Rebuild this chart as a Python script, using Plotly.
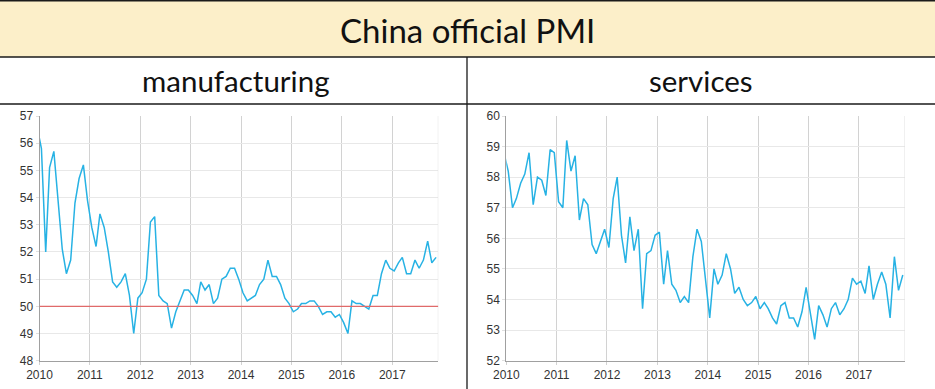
import plotly.graph_objects as go

W, H = 935, 389

# Monthly data, Dec 2009 .. Nov 2017 (plotted mid-month)
months = [f"2009-12-15"] + [f"{y}-{m:02d}-15" for y in range(2010, 2018) for m in range(1, 13)][:-1]

manufacturing = [
    56.6,
    55.8, 52.0, 55.1, 55.7, 53.9, 52.1, 51.2, 51.7, 53.8, 54.7, 55.2, 53.9,
    52.9, 52.2, 53.4, 52.9, 52.0, 50.9, 50.7, 50.9, 51.2, 50.4, 49.0, 50.3,
    50.5, 51.0, 53.1, 53.3, 50.4, 50.2, 50.1, 49.2, 49.8, 50.2, 50.6, 50.6,
    50.4, 50.1, 50.9, 50.6, 50.8, 50.1, 50.3, 51.0, 51.1, 51.4, 51.4, 51.0,
    50.5, 50.2, 50.3, 50.4, 50.8, 51.0, 51.7, 51.1, 51.1, 50.8, 50.3, 50.1,
    49.8, 49.9, 50.1, 50.1, 50.2, 50.2, 50.0, 49.7, 49.8, 49.8, 49.6, 49.7,
    49.4, 49.0, 50.2, 50.1, 50.1, 50.0, 49.9, 50.4, 50.4, 51.2, 51.7, 51.4,
    51.3, 51.6, 51.8, 51.2, 51.2, 51.7, 51.4, 51.7, 52.4, 51.6, 51.8,
]

services = [
    58.8,
    58.2, 57.0, 57.3, 57.8, 58.1, 58.8, 57.1, 58.0, 57.9, 57.4, 58.9, 58.8,
    57.2, 57.0, 59.2, 58.2, 58.7, 56.6, 57.3, 57.1, 55.8, 55.5, 55.9, 56.3,
    55.7, 57.3, 58.0, 56.1, 55.2, 56.7, 55.6, 56.3, 53.7, 55.5, 55.6, 56.1,
    56.2, 54.5, 55.6, 54.5, 54.3, 53.9, 54.1, 53.9, 55.4, 56.3, 55.9, 54.6,
    53.4, 55.0, 54.5, 54.8, 55.5, 55.0, 54.2, 54.4, 54.0, 53.8, 53.9, 54.1,
    53.7, 53.9, 53.7, 53.4, 53.2, 53.8, 53.9, 53.4, 53.4, 53.1, 53.6, 54.4,
    53.5, 52.7, 53.8, 53.5, 53.1, 53.7, 53.9, 53.5, 53.7, 54.0, 54.7, 54.5,
    54.6, 54.2, 55.1, 54.0, 54.5, 54.9, 54.5, 53.4, 55.4, 54.3, 54.8,
]

title = "China official PMI"
subtitles = ["manufacturing", "services"]
year_ticks = [f"{y}-01-01" for y in range(2010, 2018)]
year_labels = [str(y) for y in range(2010, 2018)]
mfg_range = [48, 57]
svc_range = [52, 60]
x_range = ["2010-01-01", "2017-12-01"]

LINE = "#27b2e4"


def px(x):
    return x / W


def py(y):
    return 1 - y / H


fig = go.Figure()
fig.add_trace(go.Scatter(x=months, y=manufacturing, mode="lines",
                         line=dict(color=LINE, width=1.5), xaxis="x", yaxis="y",
                         showlegend=False, hoverinfo="x+y"))
fig.add_trace(go.Scatter(x=months, y=services, mode="lines",
                         line=dict(color=LINE, width=1.5), xaxis="x2", yaxis="y2",
                         showlegend=False, hoverinfo="x+y"))

plot_top, plot_bottom = 116, 360.7
ydom = [py(plot_bottom), py(plot_top)]
left_dom = [px(39.5), px(438.3)]
right_dom = [px(506.3), px(905)]

tickfont = dict(family="Liberation Sans, Arial, sans-serif", size=12, color="#333")

xcommon = dict(type="date", range=x_range, tickvals=year_ticks, ticktext=year_labels,
               showgrid=True, gridcolor="#d2d2d2", gridwidth=1,
               showline=True, linecolor="#a0a0a0", linewidth=1,
               ticks="outside", ticklen=3, tickcolor="#d2d2d2",
               tickfont=tickfont, zeroline=False, fixedrange=True, automargin=False)
ycommon = dict(showgrid=True, gridcolor="#e8e8e8", gridwidth=1,
               showline=True, linecolor="#a0a0a0", linewidth=1,
               ticks="outside", ticklen=3, tickcolor="#e0e0e0",
               tickfont=tickfont, zeroline=False, dtick=1, fixedrange=True,
               automargin=False)

fig.update_layout(
    width=W, height=H, autosize=False,
    margin=dict(l=0, r=0, t=0, b=0, pad=0),
    paper_bgcolor="white", plot_bgcolor="white",
    xaxis=dict(domain=left_dom, anchor="y", **xcommon),
    yaxis=dict(domain=ydom, anchor="x", range=mfg_range, **ycommon),
    xaxis2=dict(domain=right_dom, anchor="y2", **xcommon),
    yaxis2=dict(domain=ydom, anchor="x2", range=svc_range, **ycommon),
)

shapes = []
# title band
shapes.append(dict(type="rect", xref="paper", yref="paper", x0=0, x1=1,
                   y0=py(57), y1=py(1), fillcolor="#fcefc9", line=dict(width=0),
                   layer="below"))
for yy in (0.75, 57, 104):
    shapes.append(dict(type="line", xref="paper", yref="paper", x0=0, x1=1,
                       y0=py(yy), y1=py(yy), line=dict(color="#1a1a1a", width=1.3)))
shapes.append(dict(type="line", xref="paper", yref="paper", x0=px(467), x1=px(467),
                   y0=0, y1=py(57), line=dict(color="#1a1a1a", width=1.3)))
# light right frame lines
for xa, ya, xr in (("x", "y", x_range[1]), ("x2", "y2", x_range[1])):
    shapes.append(dict(type="line", xref=xa, yref=f"{ya} domain", x0=xr, x1=xr,
                       y0=0, y1=1, line=dict(color="#e0e0e0", width=1)))
# 50 reference line
shapes.append(dict(type="line", xref="x", yref="y", x0=x_range[0], x1=x_range[1],
                   y0=50, y1=50, line=dict(color="#e06a6a", width=1.2)))
fig.update_layout(shapes=shapes)

hfont = "Lato, Open Sans, sans-serif"
fig.add_annotation(text=title, x=0.5, y=py(30), xref="paper", yref="paper",
                   showarrow=False, font=dict(family=hfont, size=33, color="#111"),
                   xanchor="center", yanchor="middle")
fig.add_annotation(text=subtitles[0], x=px(235), y=py(80), xref="paper", yref="paper",
                   showarrow=False, font=dict(family=hfont, size=29.5, color="#111"),
                   xanchor="center", yanchor="middle")
fig.add_annotation(text=subtitles[1], x=px(701), y=py(80), xref="paper", yref="paper",
                   showarrow=False, font=dict(family=hfont, size=29.5, color="#111"),
                   xanchor="center", yanchor="middle")

fig.write_html("out.html", config={"displayModeBar": False},
               post_script="document.body.style.margin='0';document.body.style.padding='0';document.body.style.overflow='hidden';")
